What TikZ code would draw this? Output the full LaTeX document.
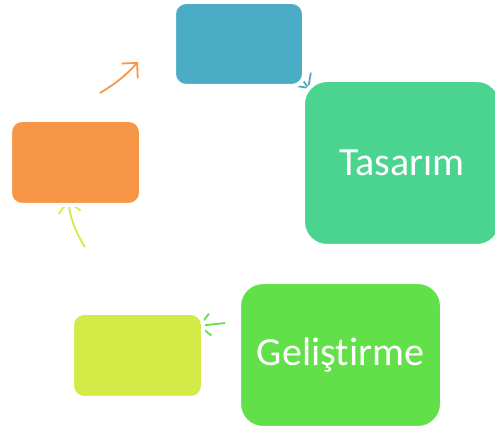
\documentclass[tikz,border=0pt]{standalone}
\usepackage{fontspec}
\setmainfont{Carlito}[Ligatures={NoCommon}]
\usetikzlibrary{arrows.meta,backgrounds}
\definecolor{mavi}{RGB}{75,172,198}
\definecolor{yesil}{RGB}{74,212,143}
\definecolor{acikyesil}{RGB}{98,224,74}
\definecolor{sari}{RGB}{212,235,71}
\definecolor{turuncu}{RGB}{247,150,70}
\tikzstyle{every kutu} = [rectangle, draw=white, line width=4pt, inner sep=0pt, text=white]
\tikzstyle{kutu} = [every kutu, rounded corners=12pt, minimum width=131pt, minimum height=85pt]
\tikzstyle{buyuk kutu} = [every kutu, rounded corners=24pt, font=\fontsize{40}{42}\selectfont]
\tikzstyle{ok} = [line width=1.8pt, -{Straight Barb[length=11pt,width=22pt]}]

\begin{document}
\begin{tikzpicture}[x=1pt,y=1pt]
    \useasboundingbox (0,0) rectangle (495,430);
    \clip (0,0) rectangle (495,430);
    \node[kutu, fill=mavi, minimum width=130pt, minimum height=84pt] (mavikutu) at (239,386) {};
    \node[buyuk kutu, fill=yesil, minimum width=198pt, minimum height=166pt] (tasarim) at (402,267) {Tasar\i m};
    \node[buyuk kutu, fill=acikyesil, minimum width=203pt, minimum height=146pt] (gelistirme) at (340.5,75) {Geli\c{s}tirme};
    \node[kutu, fill=sari] (sarikutu) at (137.5,74.5) {};
    \node[kutu, fill=turuncu] (turuncukutu) at (75.5,267.5) {};

    % ok uclari kutularin altinda kalir
    \begin{pgfonlayer}{background}
        \coordinate (t1) at (100,337);
        \coordinate (t2) at (138,368);
        \coordinate (m1) at (294,362);
        \coordinate (m2) at (309,341);
        \coordinate (g1) at (225,107);
        \coordinate (g2) at (198,104);
        \coordinate (s1) at (85,183);
        \coordinate (s2) at (68,230);
        \draw[ok, turuncu] (t1) to[bend right=8] (t2);
        \draw[ok, mavi] (m1) -- (m2);
        \draw[ok, acikyesil] (g1) -- (g2);
        \draw[ok, sari] (s1) to[bend left=12] (s2);
    \end{pgfonlayer}
\end{tikzpicture}
\end{document}
